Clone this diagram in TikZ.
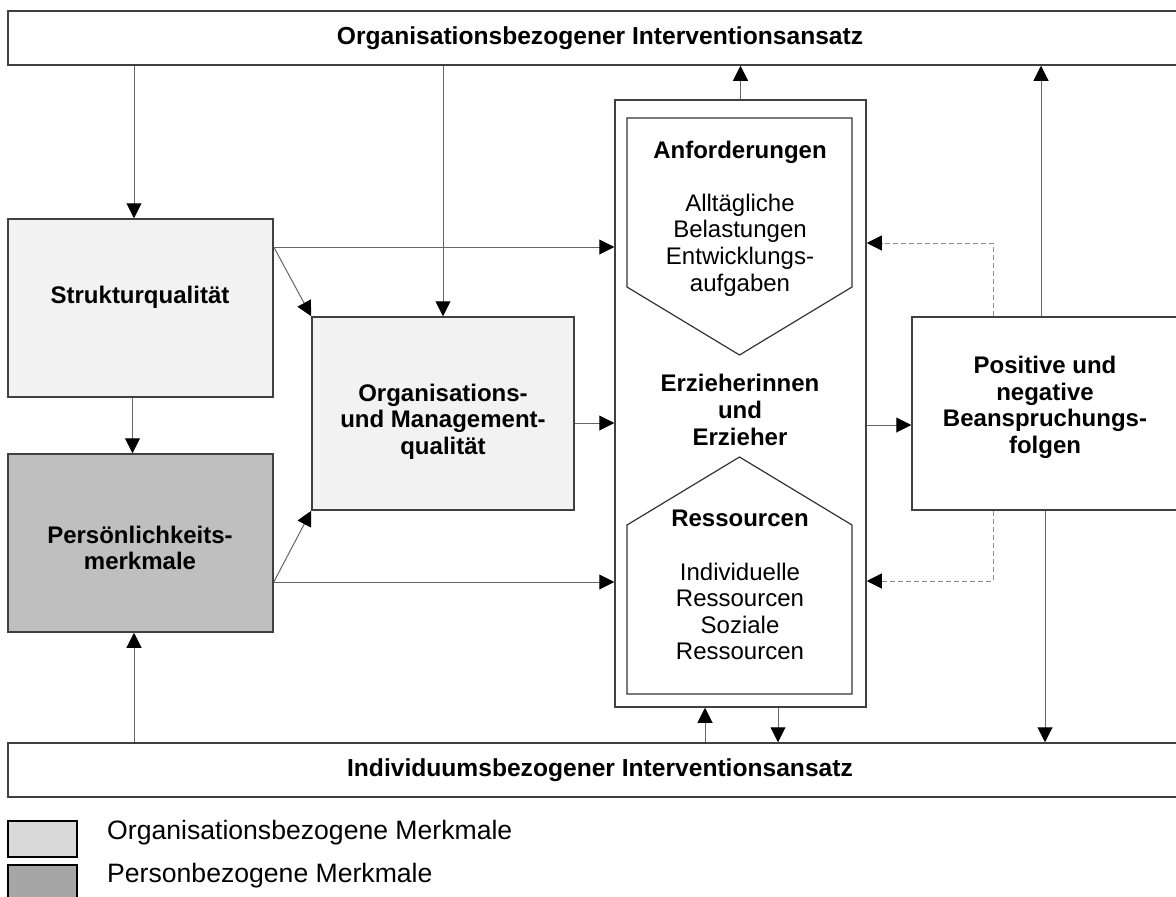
\documentclass[tikz,border=0pt]{standalone}
\usepackage{fontspec}
\setmainfont{Liberation Sans}
\usetikzlibrary{arrows.meta}

\tikzset{
	box/.style={draw=black!75, line width=1.5pt, inner sep=0pt},
	bar/.style={box, minimum width=1184, minimum height=54, font=\bfseries\fontsize{24.6}{27}\selectfont},
	hd/.style={align=center, inner sep=0pt, font=\bfseries\fontsize{24}{26.6}\selectfont},
	tx/.style={align=center, inner sep=0pt, font=\fontsize{24}{26.6}\selectfont},
	legtx/.style={anchor=west, inner sep=0pt, font=\fontsize{26.6}{30}\selectfont},
	arr/.style={draw=black!60, line width=1pt, -{Triangle[length=15pt,width=15pt,color=black]}},
	dasharr/.style={draw=black!45, line width=1pt, dash pattern=on 5pt off 3pt, -{Triangle[length=15pt,width=15pt,color=black]}}
}

\begin{document}
\begin{tikzpicture}[x=1pt,y=-1pt]
	\useasboundingbox (0,0) rectangle (1176,897);

	% Interventionsansaetze
	\node[bar] (orgbar) at (600,38) {Organisationsbezogener Interventionsansatz};
	\node[bar] (indbar) at (600,770) {Individuumsbezogener Interventionsansatz};

	% Merkmale
	\node[box, fill=black!5, minimum width=265, minimum height=178] (struktur) at (140.5,308) {};
	\node[hd] (struktur-t) at (140,297) {Strukturqualität};
	\node[box, fill=black!25, minimum width=265, minimum height=178] (pers) at (140.5,543) {};
	\node[hd] (pers-t) at (140,548) {Persönlichkeits-\\merkmale};
	\node[box, fill=black!5, minimum width=262, minimum height=193] (orgmgmt) at (443,413.5) {};
	\node[hd] (orgmgmt-t) at (443,421.5) {Organisations-\\und Management-\\qualität};

	% Erzieherinnen und Erzieher
	\node[box, minimum width=251, minimum height=607] (erz) at (740.5,403.5) {};
	\draw[black!80, line width=1.2pt] (627,118) -- (852,118) -- (852,287) -- (739.5,355) -- (627,287) -- cycle;
	\draw[black!80, line width=1.2pt] (739.5,457) -- (852,525) -- (852,694) -- (627,694) -- (627,525) -- cycle;
	\node[hd] (anf-t) at (740,152) {Anforderungen};
	\node[tx] (anf-l) at (740,245) {Alltägliche\\Belastungen\\Entwicklungs-\\aufgaben};
	\node[hd] (erz-t) at (740,410) {Erzieherinnen\\und\\Erzieher};
	\node[hd] (res-t) at (740,518) {Ressourcen};
	\node[tx] (res-l) at (740,611.5) {Individuelle\\Ressourcen\\Soziale\\Ressourcen};

	% Beanspruchungsfolgen
	\node[box, minimum width=266, minimum height=193] (positive) at (1045,413.5) {};
	\node[hd] (positive-t) at (1045,407.5) {Positive und\\negative\\Beanspruchungs-\\folgen};

	% Spalten und Zeilen der Pfeile
	\coordinate (colA) at (134,0);
	\coordinate (colA2) at (132.5,0);
	\coordinate (colB) at (1041,0);
	\coordinate (colC) at (1045,0);
	\coordinate (colD) at (705,0);
	\coordinate (colE) at (778,0);
	\coordinate (colF) at (993,0);
	\coordinate (rowA) at (0,247);
	\coordinate (rowB) at (0,582);
	\coordinate (rowC) at (0,423);
	\coordinate (rowD) at (0,425);
	\coordinate (rowE) at (0,243);
	\coordinate (rowF) at (0,581);

	\draw[arr] (orgbar.south -| colA) -- (struktur.north -| colA);
	\draw[arr] (orgbar.south -| orgmgmt.north) -- (orgmgmt.north);
	\draw[arr] (erz.north) -- (erz.north |- orgbar.south);
	\draw[arr] (positive.north -| colB) -- (orgbar.south -| colB);
	\draw[arr] (struktur.south -| colA2) -- (pers.north -| colA2);
	\draw[arr] (indbar.north -| colA) -- (pers.south -| colA);
	\draw[arr] (struktur.east |- rowA) -- (erz.west |- rowA);
	\draw[arr] (struktur.east |- rowA) -- (orgmgmt.north west);
	\draw[arr] (pers.east |- rowB) -- (erz.west |- rowB);
	\draw[arr] (pers.east |- rowB) -- (orgmgmt.south west);
	\draw[arr] (orgmgmt.east |- rowC) -- (erz.west |- rowC);
	\draw[arr] (erz.east |- rowD) -- (positive.west |- rowD);
	\draw[dasharr] (positive.north -| colF) |- (erz.east |- rowE);
	\draw[dasharr] (positive.south -| colF) |- (erz.east |- rowF);
	\draw[arr] (positive.south -| colC) -- (indbar.north -| colC);
	\draw[arr] (indbar.north -| colD) -- (erz.south -| colD);
	\draw[arr] (erz.south -| colE) -- (indbar.north -| colE);

	% Legende
	\node[draw=black, line width=2pt, fill=black!15, minimum width=69, minimum height=36] (leg1) at (42.5,839) {};
	\node[draw=black, line width=2pt, fill=black!35, minimum width=69, minimum height=40] (leg2) at (42.5,885) {};
	\node[legtx] (leg1-t) at (107,833) {Organisationsbezogene Merkmale};
	\node[legtx] (leg2-t) at (107,876) {Personbezogene Merkmale};

\end{tikzpicture}
\end{document}
